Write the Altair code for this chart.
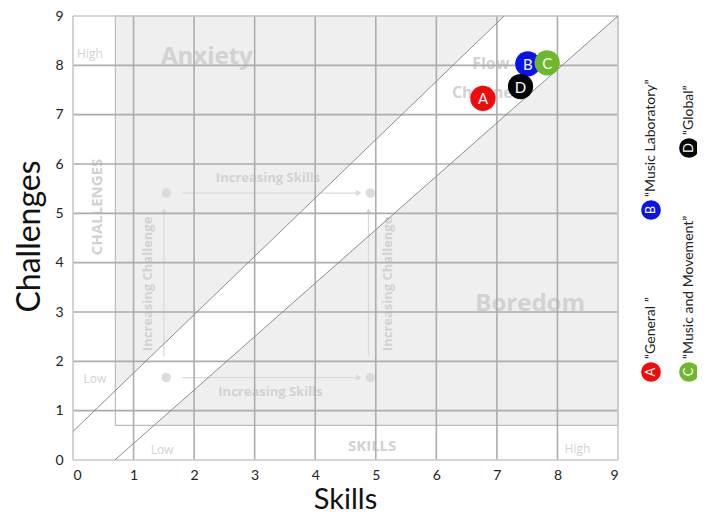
import altair as alt
import pandas as pd

# ---- data ----
letters = ["A", "B", "C", "D"]
skills = [6.77, 7.51, 7.83, 7.39]
challenges = [7.33, 8.03, 8.05, 7.57]
point_colors = ["#f20a0a", "#0b12f2", "#6db82b", "#050505"]
draw_order = [4, 1, 3, 2]

legend_names = ["\u201cGeneral \u201d", "\u201cMusic Laboratory\u201d",
                "\u201cMusic and Movement\u201d", "\u201cGlobal\u201d"]
legend_px_x = [578, 578, 616, 616]
legend_px_y = [356, 194, 356, 132]

ticks = list(range(10))
inner_grid = list(range(1, 9))
frame = [0, 9]

# background flow-diagram geometry (data units)
upper_x = [0.0, 7.12]
upper_y = [0.58, 9.0]
lower_x = [0.69, 9.0]
lower_y = [0.0, 9.0]
anx_x = [0.7, 7.12]
anx_y = [1.41, 9.0]
anx_y2 = [9.0, 9.0]
bor_x = [1.34, 9.0]
bor_y = [0.7, 0.7]
bor_y2 = [0.7, 9.0]
box_x = [0.7]
box_x2 = [9.0]
box_y = [0.7]
box_y2 = [9.0]

# faint labels of the background diagram
flat_texts = ["Anxiety", "Boredom", "Flow", "Channel", "Increasing Skills", "Increasing Skills",
              "SKILLS", "Low", "High", "Low", "High"]
flat_x = [2.21, 7.55, 6.9, 6.8, 3.22, 3.26, 4.94, 1.47, 8.33, 0.36, 0.28]
flat_y = [8.17, 3.17, 8.03, 7.43, 5.71, 1.37, 0.29, 0.2, 0.23, 1.64, 8.23]
flat_size = [24, 24, 16, 16, 13, 13, 15, 12, 12, 12, 12]
flat_weight = ["bold", "bold", "bold", "bold", "bold", "bold", "bold", "normal", "normal", "normal", "normal"]

rot_texts = ["CHALLENGES", "Increasing Challenge", "Increasing Challenge"]
rot_x = [0.4, 1.24, 5.2]
rot_y = [5.13, 3.57, 3.57]
rot_size = [15, 13, 13]

dot_x = [1.54, 4.91, 1.54, 4.91]
dot_y = [1.67, 1.67, 5.41, 5.41]
harrow_x = [1.8, 1.8]
harrow_x2 = [4.72, 4.72]
harrow_y = [1.67, 5.41]
varrow_x = [1.5, 4.88]
varrow_y = [2.1, 2.1]
varrow_y2 = [5.05, 5.05]

FONT = "Lato"
W, H = 545, 444
XS = alt.Scale(domain=[0, 9], nice=False, zero=False)
YS = alt.Scale(domain=[0, 9], nice=False, zero=False)

XA = alt.Axis(values=ticks, ticks=False, domain=False, grid=False, labelFont=FONT, labelFontSize=14,
              labelColor="#222", labelPadding=8, title="Skills", titleFont=FONT, titleFontSize=29,
              titleFontWeight="normal", titleColor="#111", titleX=272, titleY=54,
              titleBaseline="bottom", titleAlign="center")
YA = alt.Axis(values=ticks, ticks=False, domain=False, grid=False, labelFont=FONT, labelFontSize=14,
              labelColor="#222", labelPadding=10, title="Challenges", titleFont=FONT, titleFontSize=32,
              titleFontWeight="normal", titleColor="#111", titleX=-44, titleY=220, titleAngle=270,
              titleBaseline="middle", titleAlign="center")


def X(f):
    return alt.X(f, type="quantitative", scale=XS, axis=XA)


def Y(f):
    return alt.Y(f, type="quantitative", scale=YS, axis=YA)


pts = pd.DataFrame({"letter": letters, "s": skills, "c": challenges,
                    "col": point_colors, "z": draw_order})

anx = pd.DataFrame({"x": anx_x, "y": anx_y, "y2": anx_y2})
bor = pd.DataFrame({"x": bor_x, "y": bor_y, "y2": bor_y2})
box = pd.DataFrame({"x": box_x, "x2": box_x2, "y": box_y, "y2": box_y2})
GRAY = "#efefef"

anx_l = alt.Chart(anx).mark_area(color=GRAY).encode(x=X("x"), y=Y("y"), y2="y2")
bor_l = alt.Chart(bor).mark_area(color=GRAY).encode(x=X("x"), y=Y("y"), y2="y2")
box_l = alt.Chart(box).mark_rect(fillOpacity=0, stroke="#bdbdbd", strokeWidth=1.2).encode(
    x=X("x"), x2="x2", y=Y("y"), y2="y2")

faint = "#d2d2d2"
flat_df = pd.DataFrame({"t": flat_texts, "x": flat_x, "y": flat_y, "s": flat_size, "w": flat_weight})
flat_layers = []
for w in ["bold", "normal"]:
    sub = flat_df[flat_df.w == w]
    flat_layers.append(
        alt.Chart(sub).mark_text(font="Open Sans", fontWeight=w, color=faint).encode(
            x=X("x"), y=Y("y"), text="t:N", size=alt.Size("s:Q", scale=None, legend=None)))
rot_df = pd.DataFrame({"t": rot_texts, "x": rot_x, "y": rot_y, "s": rot_size})
rot_l = alt.Chart(rot_df).mark_text(font="Open Sans", fontWeight="bold", color=faint, angle=270).encode(
    x=X("x"), y=Y("y"), text="t:N", size=alt.Size("s:Q", scale=None, legend=None))

dots_l = alt.Chart(pd.DataFrame({"x": dot_x, "y": dot_y})).mark_circle(
    size=90, color="#dcdcdc", opacity=1).encode(x=X("x"), y=Y("y"))
har = pd.DataFrame({"x": harrow_x, "x2": harrow_x2, "y": harrow_y})
har_l = alt.Chart(har).mark_rule(color="#dadada", strokeWidth=1.3).encode(x=X("x"), x2="x2", y=Y("y"))
har_h = alt.Chart(har).mark_point(shape="triangle-right", filled=True, size=40, color="#dadada", opacity=1).encode(
    x=X("x2"), y=Y("y"))
var = pd.DataFrame({"x": varrow_x, "y": varrow_y, "y2": varrow_y2})
var_l = alt.Chart(var).mark_rule(color="#dadada", strokeWidth=1.3).encode(x=X("x"), y=Y("y"), y2="y2")
var_h = alt.Chart(var).mark_point(shape="triangle-up", filled=True, size=40, color="#dadada", opacity=1).encode(
    x=X("x"), y=Y("y2"))

diag = pd.DataFrame({"x": upper_x + lower_x, "y": upper_y + lower_y,
                     "g": ["u", "u", "l", "l"]})
diag_l = alt.Chart(diag).mark_line(color="#8c8c8c", strokeWidth=1).encode(
    x=X("x"), y=Y("y"), detail="g:N")

gdf = pd.DataFrame({"v": inner_grid})
fdf = pd.DataFrame({"v": frame})
gv = alt.Chart(gdf).mark_rule(color="#adadad", strokeWidth=1.6).encode(
    x=X("v"), y=alt.value(0), y2=alt.value(H))
gh = alt.Chart(gdf).mark_rule(color="#adadad", strokeWidth=1.6).encode(
    y=Y("v"), x=alt.value(0), x2=alt.value(W))
fv = alt.Chart(fdf).mark_rule(color="#c9c9c9", strokeWidth=1.6).encode(
    x=X("v"), y=alt.value(0), y2=alt.value(H))
fh = alt.Chart(fdf).mark_rule(color="#c9c9c9", strokeWidth=1.6).encode(
    y=Y("v"), x=alt.value(0), x2=alt.value(W))

circles = alt.Chart(pts).mark_circle(size=640, opacity=1).encode(
    x=X("s"), y=Y("c"),
    color=alt.Color("col:N", scale=None, legend=None),
    order=alt.Order("z:Q"),
)
letters_l = alt.Chart(pts).mark_text(color="white", font=FONT, fontSize=15, dy=1).encode(
    x=X("s"), y=Y("c"), text="letter:N")

leg = pd.DataFrame({"letter": letters, "name": legend_names, "col": point_colors,
                    "lx": legend_px_x, "ly": legend_px_y})
leg_c = alt.Chart(leg).mark_circle(size=390, opacity=1).encode(
    x=alt.X("lx:Q", scale=None, axis=None), y=alt.Y("ly:Q", scale=None, axis=None),
    color=alt.Color("col:N", scale=None, legend=None))
leg_l = alt.Chart(leg).mark_text(color="white", font=FONT, fontSize=13, angle=270).encode(
    x=alt.X("lx:Q", scale=None, axis=None), y=alt.Y("ly:Q", scale=None, axis=None), text="letter:N")
leg_t = alt.Chart(leg).mark_text(color="#222", font=FONT, fontSize=14, angle=270, align="left",
                                  baseline="middle", dx=13).encode(
    x=alt.X("lx:Q", scale=None, axis=None), y=alt.Y("ly:Q", scale=None, axis=None), text="name:N")

chart = alt.layer(
    anx_l, bor_l, box_l, *flat_layers, rot_l, dots_l, har_l, har_h, var_l, var_h,
    gv, gh, fv, fh, diag_l, circles, letters_l, leg_c, leg_l, leg_t
).properties(
    width=W, height=H,
    autosize=alt.AutoSizeParams(type="none"),
    padding={"left": 65, "top": 8, "right": 79, "bottom": 54},
    background="white",
).configure_view(stroke=None)

chart.save("out.html", embed_options={"renderer": "svg", "actions": False})
